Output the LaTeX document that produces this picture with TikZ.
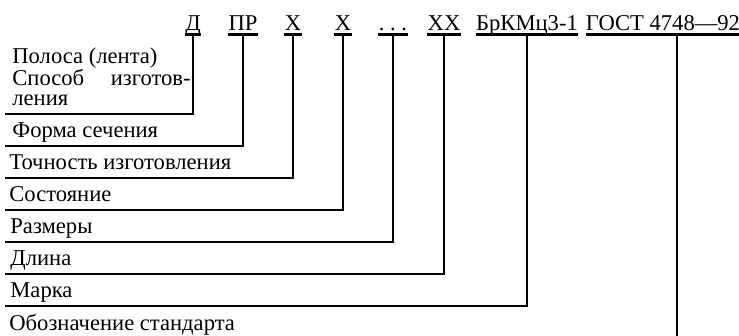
\documentclass[tikz,border=0pt]{standalone}
\usepackage{fontspec}
\setmainfont{Liberation Serif}
\begin{document}
\begin{tikzpicture}[x=0.5pt,y=-0.5pt,
		codepart/.style={inner sep=0pt, anchor=base, font=\fontsize{11.3}{13}\selectfont},
		fieldtext/.style={inner sep=0pt, anchor=base west, font=\fontsize{11.3}{13}\selectfont},
		uline/.style={line width=1.5pt},
		lead/.style={line width=0.95pt},
		thicklead/.style={line width=1.35pt}]
		%%%%% START %%%%%
		
		\useasboundingbox (0, 0) rectangle (739, 336);
		
		\node[codepart] (d) at (193, 31) {Д};
		\node[codepart] (pr) at (243, 31) {ПР};
		\node[codepart] (x1) at (293, 31) {Х};
		\node[codepart] (x2) at (343, 31) {Х};
		\node[codepart] (dots) at (393, 31) {.\ .\ .};
		\node[codepart] (xx) at (444, 31) {ХХ};
		\node[codepart] (grade) at (527, 31) {БрКМц3-1};
		\node[codepart] (gost) at (663, 31) {ГОСТ 4748—92};
		
		\foreach \n in {d, pr, x1, x2, dots, xx, grade, gost}
			\draw[uline] ([yshift=-2pt]\n.base west) -- ([yshift=-2pt]\n.base east);
		
		\coordinate (gtop) at (677, 35);
		
		\node[fieldtext] (f1a) at (12, 64) {Полоса (лента)};
		\node[fieldtext] (f1b) at (12, 86) {Способ};
		\node[fieldtext, anchor=base east] (f1c) at (191, 86) {изготов-};
		\node[fieldtext] (f1d) at (12, 106) {ления};
		\node[fieldtext] (f2) at (12, 138) {Форма сечения};
		\node[fieldtext] (f3) at (9, 170) {Точность изготовления};
		\node[fieldtext] (f4) at (9, 202) {Состояние};
		\node[fieldtext] (f5) at (10, 234) {Размеры};
		\node[fieldtext] (f6) at (10, 266) {Длина};
		\node[fieldtext] (f7) at (10, 298) {Марка};
		\node[fieldtext] (f8) at (9, 330) {Обозначение стандарта};
		
		\coordinate (e1) at (5, 114);
		\coordinate (e2) at (5, 146);
		\coordinate (e3) at (5, 178);
		\coordinate (e4) at (5, 210);
		\coordinate (e5) at (5, 242);
		\coordinate (e6) at (5, 274);
		\coordinate (e7) at (5, 306);
		\coordinate (e8) at (677, 336);
		
		\draw[thicklead] ([yshift=-2pt]d.base) |- (e1);
		\draw[thicklead] ([yshift=-2pt]pr.base) |- (e2);
		\draw[lead] ([yshift=-2pt]x1.base) |- (e3);
		\draw[lead] ([yshift=-2pt]x2.base) |- (e4);
		\draw[lead] ([yshift=-2pt]dots.base) |- (e5);
		\draw[thicklead] ([yshift=-2pt]xx.base) |- (e6);
		\draw[lead] ([yshift=-2pt]grade.base) |- (e7);
		\draw[lead] (gtop) -- (e8);
		
		%%%%% END %%%%%
	\end{tikzpicture}
\end{document}
